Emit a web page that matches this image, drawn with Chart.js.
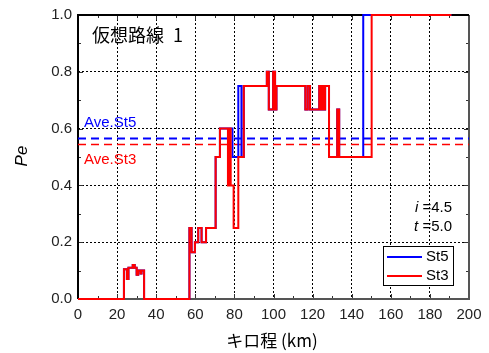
<!DOCTYPE html>
<html lang="ja">
<head>
<meta charset="UTF-8" />
<title>Pe キロ程</title>
<script src="https://cdn.jsdelivr.net/npm/chart.js@4.4.0/dist/chart.umd.min.js"></script>
<style>
  html, body { margin: 0; padding: 0; background: #fff; }
  #wrap { width: 489px; height: 353px; }
</style>
</head>
<body>
<div id="wrap"><canvas id="peChart" width="489" height="353"></canvas></div>
<script>
// St3 (red) step values: km where the level starts, Pe from there on
const kmSt3 = [0, 23.5, 25.0, 25.8, 28.0, 29.0, 30.0, 30.8, 32.0, 32.5, 33.8, 57.0, 58.1, 59.8, 61.5, 63.2, 65.5, 70.4, 72.6,
  76.7, 77.1, 77.4, 77.8, 78.1, 79.6, 82.0, 84.8, 96.6, 97.6, 99.8, 100.8, 101.5, 116.3, 117.5, 118.7,
  123.4, 123.9, 124.4, 124.9, 125.4, 125.9, 126.4, 128.4, 132.6, 133.6, 150.2, 191.0];
const peSt3 = [0, 0.105, 0.07, 0.11, 0.12, 0.11, 0.085, 0.10, 0.09, 0.10, 0, 0.25, 0.165, 0.20, 0.25, 0.20, 0.25, 0.50, 0.60,
  0.40, 0.60, 0.40, 0.60, 0.40, 0.25, 0.50, 0.75, 0.80, 0.667, 0.80, 0.667, 0.75, 0.667, 0.75, 0.667,
  0.75, 0.667, 0.75, 0.667, 0.75, 0.667, 0.75, 0.50, 0.667, 0.50, 1.0, 1.0];

// St5 (blue)
const kmSt5 = [0, 23.5, 25.0, 25.8, 28.0, 29.0, 30.0, 30.8, 32.0, 32.5, 33.8, 57.0, 58.1, 59.8, 61.5, 63.2, 65.5, 70.4, 72.6,
  79.0, 82.0, 83.6, 84.8, 96.6, 97.6, 99.8, 100.8, 101.5, 116.3, 117.5, 118.7,
  123.4, 123.9, 124.4, 124.9, 125.4, 125.9, 126.4, 128.4, 132.6, 133.6, 145.9, 191.0];
const peSt5 = [0, 0.105, 0.07, 0.11, 0.12, 0.11, 0.085, 0.10, 0.09, 0.10, 0, 0.25, 0.165, 0.20, 0.25, 0.20, 0.25, 0.50, 0.60,
  0.50, 0.75, 0.50, 0.75, 0.80, 0.667, 0.80, 0.667, 0.75, 0.667, 0.75, 0.667,
  0.75, 0.667, 0.75, 0.667, 0.75, 0.667, 0.75, 0.50, 0.667, 0.50, 1.0, 1.0];

const aveSt5 = 0.565;
const aveSt3 = 0.544;
const kmRange = [0, 200];
const xTicks = [0, 20, 40, 60, 80, 100, 120, 140, 160, 180, 200];
const yTicks = [0, 0.2, 0.4, 0.6, 0.8, 1.0];

const FONT = '"Liberation Sans", Arial, sans-serif';
const JFONT = '"Noto Sans CJK JP", sans-serif';

const toXY = (xs, ys) => xs.map((x, i) => ({ x: x, y: ys[i] }));

const decor = {
  id: 'decor',
  beforeDatasetsDraw(chart) {
    const ctx = chart.ctx, a = chart.chartArea;
    const xs = chart.scales.x, ys = chart.scales.y;
    ctx.save();
    // inward ticks on all four sides
    ctx.strokeStyle = '#333'; ctx.lineWidth = 1;
    for (let v = 0; v <= 200; v += 10) {
      const px = Math.round(xs.getPixelForValue(v)) + 0.5;
      const len = v % 20 === 0 ? 5 : 3;
      ctx.beginPath();
      ctx.moveTo(px, a.bottom); ctx.lineTo(px, a.bottom - len);
      ctx.moveTo(px, a.top); ctx.lineTo(px, a.top + len);
      ctx.stroke();
    }
    for (let k = 0; k <= 10; k++) {
      const py = Math.round(ys.getPixelForValue(k / 10)) + 0.5;
      const len = k % 2 === 0 ? 5 : 3;
      ctx.beginPath();
      ctx.moveTo(a.left, py); ctx.lineTo(a.left + len, py);
      ctx.moveTo(a.right, py); ctx.lineTo(a.right - len, py);
      ctx.stroke();
    }
    // frame
    ctx.lineWidth = 2;
    ctx.strokeStyle = '#555';
    ctx.beginPath();
    ctx.moveTo(a.left, a.bottom); ctx.lineTo(a.right, a.bottom); ctx.lineTo(a.right, a.top);
    ctx.stroke();
    ctx.strokeStyle = '#000';
    ctx.beginPath();
    ctx.moveTo(a.left, a.bottom); ctx.lineTo(a.left, a.top); ctx.lineTo(a.right, a.top);
    ctx.stroke();
    ctx.restore();
  },
  afterDraw(chart) {
    const ctx = chart.ctx;
    ctx.save();
    // route name
    ctx.fillStyle = '#000';
    ctx.textBaseline = 'middle';
    ctx.textAlign = 'left';
    ctx.font = '18px ' + JFONT;
    ctx.fillText('仮想路線\u20021', 92, 35);

    // average labels
    ctx.font = '15px ' + FONT;
    ctx.fillStyle = '#0000ff';
    ctx.fillText('Ave.St5', 84, 123);
    ctx.fillStyle = '#ff0000';
    ctx.fillText('Ave.St3', 84, 160);

    // parameters, right aligned
    ctx.fillStyle = '#000';
    const rx = 452;
    [['i', ' =4.5', 208], ['t', ' =5.0', 227]].forEach(([sym, rest, y]) => {
      ctx.font = '15px ' + FONT;
      const wr = ctx.measureText(rest).width;
      ctx.font = 'italic 15px ' + FONT;
      const ws = ctx.measureText(sym).width;
      ctx.fillText(sym, rx - wr - ws, y);
      ctx.font = '15px ' + FONT;
      ctx.fillText(rest, rx - wr, y);
    });

    // legend
    ctx.fillStyle = '#fff';
    ctx.fillRect(383.5, 246.5, 70, 39);
    ctx.strokeStyle = '#000'; ctx.lineWidth = 1;
    ctx.strokeRect(383.5, 246.5, 70, 39);
    const legendItems = [chart.data.datasets[0], chart.data.datasets[1]];
    legendItems.forEach((ds, i) => {
      const y = 257 + i * 19;
      ctx.strokeStyle = ds.borderColor; ctx.lineWidth = 2;
      ctx.beginPath(); ctx.moveTo(387, y); ctx.lineTo(422, y); ctx.stroke();
      ctx.fillStyle = '#000';
      ctx.font = '15px ' + FONT;
      ctx.fillText(ds.label, 426, y);
    });

    // axis titles
    ctx.fillStyle = '#000';
    ctx.textAlign = 'center';
    ctx.font = '17px ' + JFONT;
    ctx.fillText('キロ程 (km)', 272, 341);
    ctx.translate(22, 156);
    ctx.rotate(-Math.PI / 2);
    ctx.font = 'italic 17px ' + FONT;
    ctx.fillText('Pe', 0, 0);
    ctx.restore();
  }
};

new Chart(document.getElementById('peChart'), {
  type: 'line',
  data: {
    datasets: [
      { label: 'St5', data: toXY(kmSt5, peSt5), borderColor: '#0000ff', borderWidth: 2, stepped: true, pointRadius: 0, order: 1, clip: 4 },
      { label: 'St3', data: toXY(kmSt3, peSt3), borderColor: '#ff0000', borderWidth: 2, stepped: true, pointRadius: 0, order: 0, clip: 4 },
      { label: 'Ave.St5', data: toXY(kmRange, [aveSt5, aveSt5]), borderColor: '#0000ff', borderWidth: 2, borderDash: [8, 5], pointRadius: 0, order: 2 },
      { label: 'Ave.St3', data: toXY(kmRange, [aveSt3, aveSt3]), borderColor: '#ff0000', borderWidth: 1.5, borderDash: [8, 5], pointRadius: 0, order: 3 }
    ]
  },
  options: {
    responsive: false,
    animation: false,
    layout: { padding: { top: 13, right: 20, left: 0, bottom: 0 } },
    plugins: { legend: { display: false }, tooltip: { enabled: false } },
    scales: {
      x: {
        type: 'linear', min: 0, max: 200,
        afterBuildTicks: s => { s.ticks = xTicks.map(v => ({ value: v })); },
        afterFit: s => { s.height = 54; },
        grid: { drawTicks: false, color: c => (c.tick && (c.tick.value === 0 || c.tick.value === 200)) ? 'rgba(0,0,0,0)' : '#000', lineWidth: 1 },
        border: { display: false, dash: [2, 2] },
        ticks: { padding: 7, color: '#222', font: { family: FONT, size: 15 } }
      },
      y: {
        type: 'linear', min: 0, max: 1,
        afterBuildTicks: s => { s.ticks = yTicks.map(v => ({ value: v })); },
        afterFit: s => { s.width = 78; },
        grid: { drawTicks: false, color: c => (c.tick && (c.tick.value === 0 || c.tick.value === 1)) ? 'rgba(0,0,0,0)' : '#000', lineWidth: 1 },
        border: { display: false, dash: [2, 2] },
        ticks: { padding: 6, color: '#222', font: { family: FONT, size: 15 }, callback: v => Number(v).toFixed(1) }
      }
    }
  },
  plugins: [decor]
});
</script>
</body>
</html>
